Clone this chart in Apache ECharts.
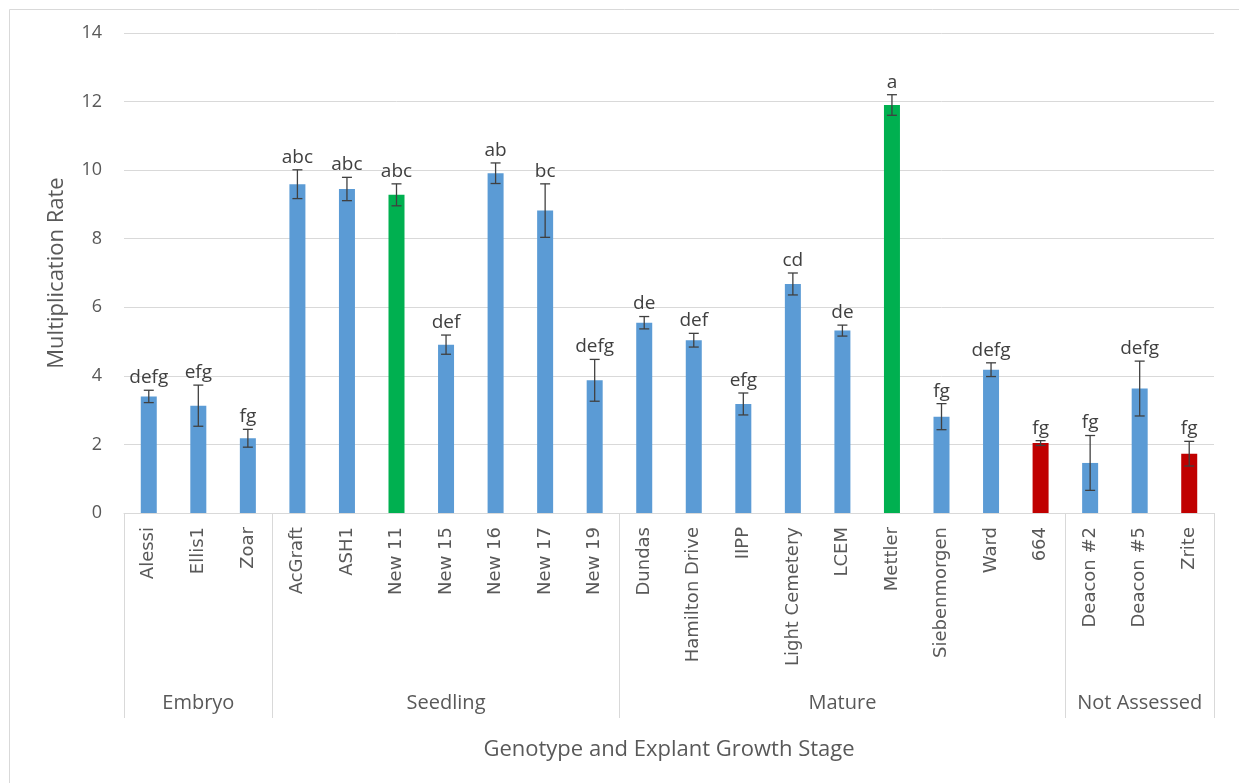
<!DOCTYPE html>
<html>
<head>
<meta charset="utf-8">
<title>Multiplication Rate</title>
<script src="https://cdn.jsdelivr.net/npm/echarts@6/dist/echarts.min.js"></script>
<style>
  html, body { margin: 0; padding: 0; background: #fff; }
  #chart { width: 1239px; height: 783px; }
</style>
</head>
<body>
<div id="chart"></div>
<script>
// genotypes, in axis order
var genotypes = ["Alessi", "Ellis1", "Zoar",
  "AcGraft", "ASH1", "New 11", "New 15", "New 16", "New 17", "New 19",
  "Dundas", "Hamilton Drive", "IIPP", "Light Cemetery", "LCEM", "Mettler", "Siebenmorgen", "Ward", "664",
  "Deacon #2", "Deacon #5", "Zrite"];
// growth stage groups and how many genotypes each holds
var stages = ["Embryo", "Seedling", "Mature", "Not Assessed"];
var stageSizes = [3, 7, 9, 3];
// mean multiplication rate
var meanRate = [3.40, 3.13, 2.18,
  9.59, 9.45, 9.28, 4.91, 9.91, 8.82, 3.87,
  5.55, 5.04, 3.18, 6.68, 5.32, 11.90, 2.81, 4.18, 2.04,
  1.46, 3.63, 1.73];
// standard error (+/-)
var stdErr = [0.18, 0.60, 0.26,
  0.42, 0.34, 0.32, 0.28, 0.30, 0.78, 0.61,
  0.18, 0.20, 0.32, 0.32, 0.16, 0.30, 0.38, 0.20, 0.07,
  0.80, 0.80, 0.36];
// mean separation letters
var letters = ["defg", "efg", "fg",
  "abc", "abc", "abc", "def", "ab", "bc", "defg",
  "de", "def", "efg", "cd", "de", "a", "fg", "defg", "fg",
  "fg", "defg", "fg"];
var yTicks = [0, 2, 4, 6, 8, 10, 12, 14];

// highlighted genotypes
var greenSet = ["New 11", "Mettler"];
var redSet = ["664", "Zrite"];

var BLUE = "#5B9BD5", GREEN = "#00B050", RED = "#C00000";
var TXT = "#595959", LINE = "#D9D9D9";
var sansFont = "'Open Sans', 'Noto Sans', sans-serif";

// where group boundaries / centres fall on the category axis
var boundaryIdx = [];
var centreLabel = {};
var acc = 0;
stageSizes.forEach(function (n, k) {
  boundaryIdx.push(acc);
  centreLabel[acc + Math.floor(n / 2)] = stages[k];
  acc += n;
});

var barData = meanRate.map(function (v, i) {
  var c = BLUE;
  if (greenSet.indexOf(genotypes[i]) >= 0) c = GREEN;
  if (redSet.indexOf(genotypes[i]) >= 0) c = RED;
  return { value: v, itemStyle: { color: c } };
});
var errData = meanRate.map(function (v, i) {
  return [i, v - stdErr[i], v + stdErr[i], letters[i]];
});

var chart = echarts.init(document.getElementById("chart"));
chart.setOption({
  backgroundColor: "#fff",
  animation: false,
  graphic: [{
    type: "rect",
    left: 7, top: 7,
    shape: { width: 1300, height: 900 },
    style: { fill: "none", stroke: LINE, lineWidth: 1 },
    silent: true
  }],
  grid: { left: 124, right: 25, top: 33, bottom: 270 },
  xAxis: [{
    type: "category",
    data: genotypes,
    name: "Genotype and Explant Growth Stage",
    nameLocation: "middle",
    nameGap: 226,
    nameTextStyle: { color: TXT, fontSize: 22, fontFamily: sansFont },
    axisLine: { lineStyle: { color: LINE, width: 1 } },
    axisTick: {
      show: true,
      length: 205,
      interval: function (idx) { return boundaryIdx.indexOf(idx) >= 0; },
      lineStyle: { color: LINE, width: 1 }
    },
    axisLabel: {
      interval: 0,
      rotate: 90,
      margin: 14,
      color: TXT,
      fontSize: 18,
      fontFamily: "'DejaVu Sans', sans-serif"
    }
  }, {
    type: "category",
    data: genotypes,
    position: "bottom",
    offset: 180,
    axisLine: { show: false },
    axisTick: { show: false },
    axisLabel: {
      interval: 0,
      margin: 0,
      color: TXT,
      fontSize: 20,
      fontFamily: sansFont,
      formatter: function (v, idx) { return centreLabel[idx] || ""; }
    }
  }],
  yAxis: {
    type: "value",
    min: yTicks[0],
    max: yTicks[yTicks.length - 1],
    interval: 2,
    name: "Multiplication Rate",
    nameLocation: "middle",
    nameGap: 56,
    nameTextStyle: { color: TXT, fontSize: 22, fontFamily: sansFont },
    axisLine: { show: false },
    axisTick: { show: false },
    splitLine: { lineStyle: { color: LINE, width: 1 } },
    axisLabel: { color: TXT, fontSize: 18, margin: 22, fontFamily: sansFont }
  },
  series: [{
    type: "bar",
    data: barData,
    barWidth: 16,
    silent: true
  }, {
    type: "custom",
    data: errData,
    silent: true,
    z: 5,
    renderItem: function (params, api) {
      var lo = api.coord([api.value(0), api.value(1)]);
      var hi = api.coord([api.value(0), api.value(2)]);
      var x = lo[0], cap = 5;
      var st = { stroke: "#404040", lineWidth: 1.3 };
      return {
        type: "group",
        children: [
          { type: "line", shape: { x1: x, y1: lo[1], x2: x, y2: hi[1] }, style: st },
          { type: "line", shape: { x1: x - cap, y1: lo[1], x2: x + cap, y2: lo[1] }, style: st },
          { type: "line", shape: { x1: x - cap, y1: hi[1], x2: x + cap, y2: hi[1] }, style: st },
          {
            type: "text",
            style: {
              x: x, y: hi[1] - 3,
              text: errData[params.dataIndex][3],
              fill: "#404040",
              fontSize: 19,
              fontFamily: sansFont,
              align: "center",
              verticalAlign: "bottom"
            }
          }
        ]
      };
    }
  }]
});
</script>
</body>
</html>
